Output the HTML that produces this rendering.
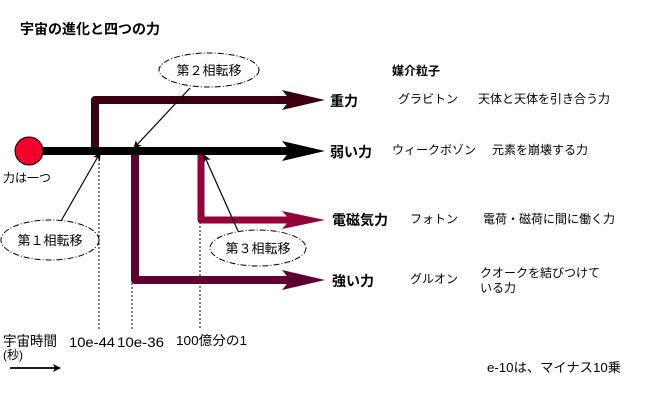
<!DOCTYPE html>
<html><head><meta charset="utf-8"><style>
body{margin:0;background:#fff;}
svg text{font-family:"Liberation Sans","Noto Sans CJK JP",sans-serif;fill:#000;}
</style></head><body>
<svg width="650" height="400" viewBox="0 0 650 400" xmlns="http://www.w3.org/2000/svg">
<defs>
<marker id="a" markerWidth="8" markerHeight="8" refX="7" refY="4" orient="auto" markerUnits="userSpaceOnUse"><path d="M0,0 L8,4 L0,8 L2,4z" fill="#000"/></marker>
</defs>
<text x="20" y="34" font-size="14" font-weight="bold">宇宙の進化と四つの力</text>
<g stroke="#000" stroke-width="1" stroke-dasharray="2,2">
<line x1="99" y1="155" x2="99" y2="330"/><line x1="132" y1="155" x2="132" y2="330"/><line x1="200" y1="222" x2="200" y2="330"/>
</g>
<path d="M95,151 L95,100 L290,100" fill="none" stroke="#3a0010" stroke-width="8" stroke-linejoin="round"/>
<path d="M282,90 L325,100 L282,110 L290,100z" fill="#3a0010"/>
<path d="M135,151 L135,280 L290,280" fill="none" stroke="#5e0030" stroke-width="8" stroke-linejoin="round"/>
<path d="M282,270 L325,280 L282,290 L290,280z" fill="#5e0030"/>
<path d="M201,151 L201,220 L290,220" fill="none" stroke="#96003a" stroke-width="7" stroke-linejoin="round"/>
<path d="M282,211 L325,220 L282,229 L290,220z" fill="#96003a"/>
<line x1="40" y1="151" x2="290" y2="151" stroke="#000" stroke-width="8"/>
<path d="M282,141 L325,151 L282,161 L290,151z" fill="#000"/>
<circle cx="29" cy="151" r="14" fill="#f5002a" stroke="#000" stroke-width="1"/>
<text x="3" y="182" font-size="12">力は一つ</text>
<g fill="#fff" stroke="#000" stroke-width="1" stroke-dasharray="6,2,1,2">
<ellipse cx="209" cy="70" rx="50" ry="17"/>
<ellipse cx="50" cy="240" rx="49" ry="20"/>
<ellipse cx="258" cy="248" rx="48" ry="18"/>
</g>
<text x="209" y="75" font-size="13" text-anchor="middle">第２相転移</text>
<text x="50" y="245" font-size="13" text-anchor="middle">第１相転移</text>
<text x="258" y="253" font-size="13" text-anchor="middle">第３相転移</text>
<g stroke="#000" stroke-width="1.2">
<line x1="190" y1="88" x2="134" y2="148" marker-end="url(#a)"/>
<line x1="61" y1="221" x2="100" y2="153" marker-end="url(#a)"/>
<line x1="238" y1="231" x2="204" y2="155" marker-end="url(#a)"/>
</g>
<g font-size="14" font-weight="bold">
<text x="330" y="106">重力</text>
<text x="330" y="157">弱い力</text>
<text x="332" y="225">電磁気力</text>
<text x="332" y="286">強い力</text>
</g>
<text x="392" y="75" font-size="12" font-weight="bold">媒介粒子</text>
<g font-size="12">
<text x="398" y="103">グラビトン</text>
<text x="392" y="154">ウィークボゾン</text>
<text x="410" y="223">フォトン</text>
<text x="410" y="283">グルオン</text>
<text x="478" y="103">天体と天体を引き合う力</text>
<text x="492" y="154">元素を崩壊する力</text>
<text x="483" y="223">電荷・磁荷に間に働く力</text>
<text x="480" y="277">クオークを結びつけて</text>
<text x="480" y="292">いる力</text>
</g>
<g font-size="14">
<text x="3" y="346" textLength="54" lengthAdjust="spacingAndGlyphs">宇宙時間</text>
<text x="3" y="359" font-size="12">(秒)</text>
<text x="69" y="347" textLength="46" lengthAdjust="spacingAndGlyphs">10e-44</text>
<text x="117" y="347" textLength="47" lengthAdjust="spacingAndGlyphs">10e-36</text>
<text x="176" y="345" font-size="13" textLength="71" lengthAdjust="spacingAndGlyphs">100億分の1</text>
<text x="487" y="372" font-size="13" textLength="134" lengthAdjust="spacingAndGlyphs">e-10は、マイナス10乗</text>
</g>
<line x1="10" y1="368" x2="60" y2="368" stroke="#000" stroke-width="1.8" marker-end="url(#a)"/>
</svg>
</body></html>
